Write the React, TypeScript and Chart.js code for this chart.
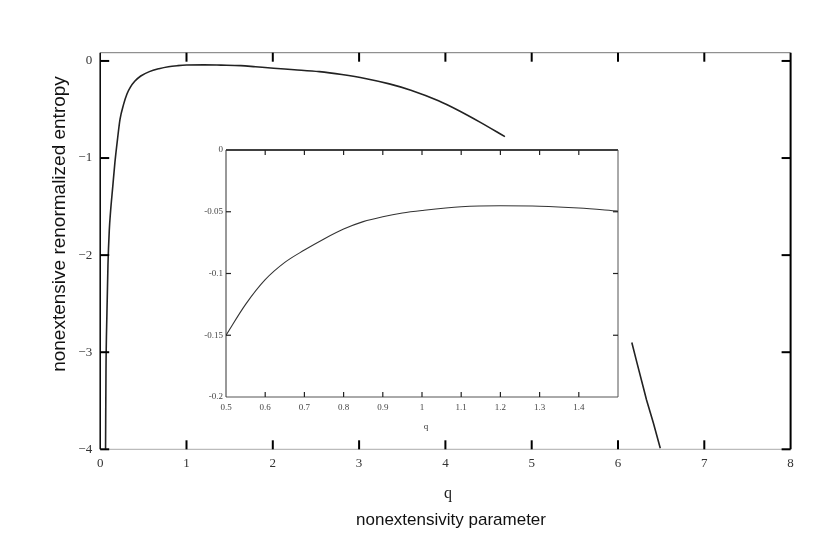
import React, { useEffect, useRef } from 'react';
import { Chart, registerables } from 'chart.js';

Chart.register(...registerables);

// ---------- data ----------
const mainQ1 = [0.062, 0.067, 0.078, 0.09, 0.105, 0.12, 0.145, 0.17, 0.2, 0.23, 0.27, 0.31, 0.35, 0.4, 0.47, 0.57, 0.68, 0.79, 0.9, 1.0, 1.2, 1.4, 1.63, 1.8, 2.01, 2.25, 2.54, 2.8, 3.07, 3.35, 3.6, 3.92, 4.13, 4.4, 4.69];
const mainS1 = [-4.0, -3.2, -2.6, -2.1, -1.75, -1.55, -1.3, -1.05, -0.81, -0.6, -0.45, -0.34, -0.27, -0.21, -0.155, -0.11, -0.08, -0.059, -0.048, -0.042, -0.04, -0.043, -0.048, -0.06, -0.075, -0.09, -0.11, -0.14, -0.18, -0.236, -0.301, -0.41, -0.5, -0.63, -0.78];
const mainQ2 = [6.16, 6.22, 6.29, 6.33, 6.41, 6.49];
const mainS2 = [-2.9, -3.11, -3.35, -3.49, -3.73, -3.99];

const insetQ = [0.5, 0.55, 0.6, 0.65, 0.7, 0.75, 0.8, 0.85, 0.9, 0.95, 1.0, 1.1, 1.2, 1.3, 1.4, 1.5];
const insetS = [-0.15, -0.125, -0.105, -0.091, -0.081, -0.072, -0.064, -0.058, -0.054, -0.051, -0.049, -0.046, -0.0452, -0.0455, -0.047, -0.0495];

const mainXTickValues = [0, 1, 2, 3, 4, 5, 6, 7, 8];
const mainXTickLabels = ['0', '1', '2', '3', '4', '5', '6', '7', '8'];
const mainYTickValues = [0, -1, -2, -3, -4];
const mainYTickLabels = ['0', '\u22121', '\u22122', '\u22123', '\u22124'];

const insetXTickValues = [0.5, 0.6, 0.7, 0.8, 0.9, 1.0, 1.1, 1.2, 1.3, 1.4];
const insetXTickLabels = ['0.5', '0.6', '0.7', '0.8', '0.9', '1', '1.1', '1.2', '1.3', '1.4'];
const insetYTickValues = [0, -0.05, -0.1, -0.15, -0.2];
const insetYTickLabels = ['0', '-0.05', '-0.1', '-0.15', '-0.2'];

const yTitle = 'nonextensive renormalized entropy';
const xSymbol = 'q';
const xTitle = 'nonextensivity parameter';
const insetXTitle = 'q';

const SERIF = '"Liberation Serif", "Times New Roman", serif';
const SANS = '"Liberation Sans", Arial, sans-serif';

function line(ctx: CanvasRenderingContext2D, x1: number, y1: number, x2: number, y2: number, color: string, w: number) {
  ctx.save();
  ctx.strokeStyle = color;
  ctx.lineWidth = w;
  ctx.beginPath();
  ctx.moveTo(x1, y1);
  ctx.lineTo(x2, y2);
  ctx.stroke();
  ctx.restore();
}

const mainFramePlugin = {
  id: 'mainFrame',
  afterDraw(chart: any) {
    const { ctx, chartArea } = chart;
    const { left, right, top, bottom } = chartArea;
    const xs = chart.scales.x;
    const ys = chart.scales.y;
    line(ctx, left, top, right, top, '#777', 1);
    line(ctx, left, bottom, right, bottom, '#aaa', 1);
    line(ctx, left, top, left, bottom, '#000', 1.5);
    line(ctx, right, top, right, bottom, '#000', 2);
    const tl = 9;
    mainXTickValues.forEach((v) => {
      const px = xs.getPixelForValue(v);
      if (px <= left + 1 || px >= right - 1) return;
      line(ctx, px, bottom, px, bottom - tl, '#000', 2);
      line(ctx, px, top, px, top + tl, '#000', 2);
    });
    mainYTickValues.forEach((v) => {
      const py = ys.getPixelForValue(v);
      line(ctx, left, py, left + tl, py, '#000', 2);
      line(ctx, right, py, right - tl, py, '#000', 2);
    });
    ctx.save();
    ctx.fillStyle = '#111';
    ctx.textAlign = 'center';
    ctx.textBaseline = 'middle';
    ctx.font = '19px ' + SANS;
    ctx.translate(60, 224);
    ctx.rotate(-Math.PI / 2);
    ctx.fillText(yTitle, 0, 0);
    ctx.restore();
    ctx.save();
    ctx.fillStyle = '#222';
    ctx.textAlign = 'center';
    ctx.textBaseline = 'middle';
    ctx.font = '16px ' + SERIF;
    ctx.fillText(xSymbol, 448, 494);
    ctx.font = '17px ' + SANS;
    ctx.fillStyle = '#111';
    ctx.fillText(xTitle, 451, 520);
    ctx.restore();
  },
};

const insetFramePlugin = {
  id: 'insetFrame',
  afterDraw(chart: any) {
    const { ctx, chartArea } = chart;
    const { left, right, top, bottom } = chartArea;
    const xs = chart.scales.x;
    const ys = chart.scales.y;
    line(ctx, left, top, right, top, '#000', 1.5);
    line(ctx, left, bottom, right, bottom, '#555', 1);
    line(ctx, left, top, left, bottom, '#333', 1);
    line(ctx, right, top, right, bottom, '#555', 1);
    const tl = 5;
    insetXTickValues.forEach((v) => {
      const px = xs.getPixelForValue(v);
      if (px <= left + 1 || px >= right - 1) return;
      line(ctx, px, bottom, px, bottom - tl, '#222', 1.2);
      line(ctx, px, top, px, top + tl, '#222', 1.2);
    });
    insetYTickValues.forEach((v) => {
      const py = ys.getPixelForValue(v);
      if (py <= top + 1 || py >= bottom - 1) return;
      line(ctx, left, py, left + tl, py, '#222', 1.2);
      line(ctx, right, py, right - tl, py, '#222', 1.2);
    });
    ctx.save();
    ctx.fillStyle = '#333';
    ctx.textAlign = 'center';
    ctx.textBaseline = 'middle';
    ctx.font = '9px ' + SERIF;
    ctx.fillText(insetXTitle, (left + right) / 2 + 4, bottom + 30);
    ctx.restore();
  },
};

function zeroPad(s: any) {
  s.paddingLeft = 0;
  s.paddingRight = 0;
  s.paddingTop = 0;
  s.paddingBottom = 0;
}

export default function App() {
  const mainRef = useRef<HTMLCanvasElement>(null);
  const insetRef = useRef<HTMLCanvasElement>(null);

  useEffect(() => {
    const main = new Chart(mainRef.current!, {
      type: 'line',
      data: {
        datasets: [
          {
            data: mainQ1.map((q, i) => ({ x: q, y: mainS1[i] })),
            borderColor: '#222',
            borderWidth: 1.6,
            pointRadius: 0,
            cubicInterpolationMode: 'monotone',
            fill: false,
          },
          {
            data: mainQ2.map((q, i) => ({ x: q, y: mainS2[i] })),
            borderColor: '#222',
            borderWidth: 1.6,
            pointRadius: 0,
            fill: false,
          },
        ],
      },
      options: {
        responsive: false,
        animation: false,
        events: [],
        layout: { padding: { left: 0, top: 52.7, right: 26.4, bottom: 0 } },
        plugins: { legend: { display: false }, tooltip: { enabled: false }, title: { display: false } },
        scales: {
          x: {
            type: 'linear',
            min: 0,
            max: 8,
            afterBuildTicks: (s: any) => {
              s.ticks = mainXTickValues.map((v) => ({ value: v }));
            },
            afterFit: (s: any) => {
              s.height = 545 - 449.3;
              zeroPad(s);
            },
            grid: { display: false, drawTicks: false },
            border: { display: false },
            ticks: {
              autoSkip: false,
              maxRotation: 0,
              padding: 6,
              color: '#333',
              font: { family: SERIF, size: 13 },
              callback: (v: any, i: number) => mainXTickLabels[i],
            },
          },
          y: {
            type: 'linear',
            min: -4,
            max: 0.085,
            afterBuildTicks: (s: any) => {
              s.ticks = mainYTickValues.map((v) => ({ value: v }));
            },
            afterFit: (s: any) => {
              s.width = 100.2;
              zeroPad(s);
            },
            grid: { display: false, drawTicks: false },
            border: { display: false },
            ticks: {
              autoSkip: false,
              padding: 8,
              color: '#333',
              font: { family: SERIF, size: 13 },
              callback: (v: any, i: number) => mainYTickLabels[i],
            },
          },
        },
      },
      plugins: [mainFramePlugin],
    } as any);

    const inset = new Chart(insetRef.current!, {
      type: 'line',
      data: {
        datasets: [
          {
            data: insetQ.map((q, i) => ({ x: q, y: insetS[i] })),
            borderColor: '#333',
            borderWidth: 1.1,
            pointRadius: 0,
            cubicInterpolationMode: 'monotone',
            fill: false,
          },
        ],
      },
      options: {
        responsive: false,
        animation: false,
        events: [],
        layout: { padding: { left: 0, top: 10, right: 12, bottom: 0 } },
        plugins: { legend: { display: false }, tooltip: { enabled: false }, title: { display: false } },
        scales: {
          x: {
            type: 'linear',
            min: 0.5,
            max: 1.5,
            afterBuildTicks: (s: any) => {
              s.ticks = insetXTickValues.map((v) => ({ value: v }));
            },
            afterFit: (s: any) => {
              s.height = 43;
              zeroPad(s);
            },
            grid: { display: false, drawTicks: false },
            border: { display: false },
            ticks: {
              autoSkip: false,
              maxRotation: 0,
              padding: 5,
              color: '#444',
              font: { family: SERIF, size: 9 },
              callback: (v: any, i: number) => insetXTickLabels[i],
            },
          },
          y: {
            type: 'linear',
            min: -0.2,
            max: 0,
            afterBuildTicks: (s: any) => {
              s.ticks = insetYTickValues.map((v) => ({ value: v }));
            },
            afterFit: (s: any) => {
              s.width = 36;
              zeroPad(s);
            },
            grid: { display: false, drawTicks: false },
            border: { display: false },
            ticks: {
              autoSkip: false,
              padding: 3,
              color: '#444',
              font: { family: SERIF, size: 9 },
              callback: (v: any, i: number) => insetYTickLabels[i],
            },
          },
        },
      },
      plugins: [insetFramePlugin],
    } as any);

    return () => {
      main.destroy();
      inset.destroy();
    };
  }, []);

  return (
    <div style={{ position: 'fixed', left: 0, top: 0, width: 817, height: 545, background: '#fff' }}>
      <canvas ref={mainRef} width={817} height={545} style={{ position: 'absolute', left: 0, top: 0, width: 817, height: 545 }} />
      <canvas ref={insetRef} width={440} height={300} style={{ position: 'absolute', left: 190, top: 140, width: 440, height: 300 }} />
    </div>
  );
}
